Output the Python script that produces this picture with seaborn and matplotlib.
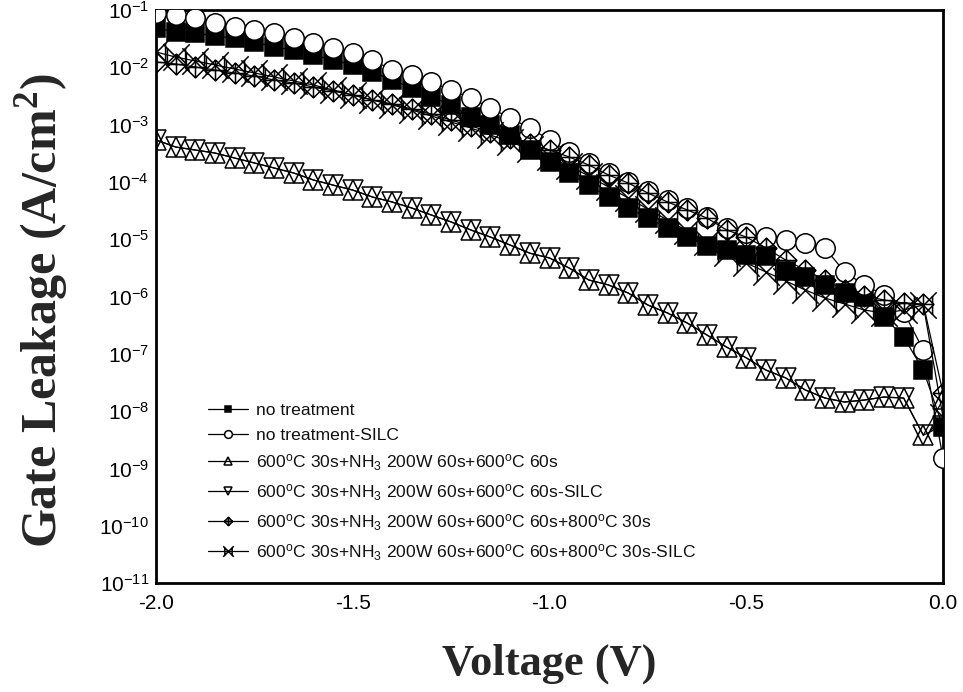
import matplotlib
matplotlib.use("Agg")
import matplotlib.pyplot as plt
from matplotlib.path import Path
from matplotlib.ticker import FixedLocator, LogLocator, NullFormatter, LogFormatterSciNotation
import pandas as pd
import seaborn as sns

# ---------------- data ----------------
voltage = [-2.00, -1.95, -1.90, -1.85, -1.80, -1.75, -1.70, -1.65, -1.60, -1.55,
           -1.50, -1.45, -1.40, -1.35, -1.30, -1.25, -1.20, -1.15, -1.10, -1.05,
           -1.00, -0.95, -0.90, -0.85, -0.80, -0.75, -0.70, -0.65, -0.60, -0.55,
           -0.50, -0.45, -0.40, -0.35, -0.30, -0.25, -0.20, -0.15, -0.10, -0.05,
           0.00]

no_treatment = [4.85e-2, 4.13e-2, 3.97e-2, 3.52e-2, 3.24e-2, 2.76e-2, 2.26e-2, 2.00e-2, 1.64e-2, 1.34e-2,
                1.10e-2, 8.3e-3, 6.0e-3, 4.35e-3, 3.03e-3, 2.20e-3, 1.36e-3, 9.8e-4, 6.6e-4, 3.6e-4,
                2.22e-4, 1.43e-4, 8.8e-5, 5.45e-5, 3.5e-5, 2.34e-5, 1.57e-5, 1.09e-5, 7.6e-6, 6.5e-6,
                5.3e-6, 5.1e-6, 2.8e-6, 2.19e-6, 1.59e-6, 1.15e-6, 9.8e-7, 4.4e-7, 1.96e-7, 5.2e-8,
                5.3e-9]

no_treatment_silc = [8.9e-2, 8.2e-2, 7.2e-2, 5.9e-2, 5.05e-2, 4.48e-2, 3.97e-2, 3.25e-2, 2.65e-2, 2.17e-2,
                     1.78e-2, 1.34e-2, 8.97e-3, 7.34e-3, 5.5e-3, 4.0e-3, 2.91e-3, 1.95e-3, 1.30e-3, 8.7e-4,
                     5.4e-4, 3.33e-4, 2.14e-4, 1.43e-4, 9.95e-5, 6.9e-5, 4.8e-5, 3.5e-5, 2.44e-5, 1.57e-5,
                     1.28e-5, 1.09e-5, 9.7e-6, 8.6e-6, 7.0e-6, 2.68e-6, 1.59e-6, 1.06e-6, 5.4e-7, 1.16e-7,
                     1.52e-9]

nh3_600 = [5.4e-4, 4.06e-4, 3.6e-4, 3.19e-4, 2.61e-4, 2.14e-4, 1.75e-4, 1.43e-4, 1.08e-4, 8.8e-5,
           7.2e-5, 5.45e-5, 4.46e-5, 3.5e-5, 2.64e-5, 2.0e-5, 1.45e-5, 1.09e-5, 7.9e-6, 5.7e-6,
           4.7e-6, 3.14e-6, 1.94e-6, 1.59e-6, 1.15e-6, 7.1e-7, 5.15e-7, 3.45e-7, 2.13e-7, 1.31e-7,
           8.5e-8, 5.2e-8, 3.8e-8, 2.34e-8, 1.69e-8, 1.44e-8, 1.56e-8, 1.76e-8, 1.69e-8, 3.8e-9,
           1.6e-8]

nh3_600_silc = [5.4e-4, 4.06e-4, 3.6e-4, 3.19e-4, 2.61e-4, 2.14e-4, 1.75e-4, 1.43e-4, 1.08e-4, 8.8e-5,
                7.2e-5, 5.45e-5, 4.46e-5, 3.5e-5, 2.64e-5, 2.0e-5, 1.45e-5, 1.09e-5, 7.9e-6, 5.7e-6,
                4.7e-6, 3.14e-6, 1.94e-6, 1.59e-6, 1.15e-6, 7.1e-7, 5.15e-7, 3.45e-7, 2.13e-7, 1.31e-7,
                8.5e-8, 5.2e-8, 3.8e-8, 2.34e-8, 1.69e-8, 1.44e-8, 1.56e-8, 1.76e-8, 1.69e-8, 3.8e-9,
                5.6e-9]

nh3_800 = [1.24e-2, 1.14e-2, 1.01e-2, 8.97e-3, 7.96e-3, 7.05e-3, 6.0e-3, 5.32e-3, 4.53e-3, 3.86e-3,
           3.29e-3, 2.69e-3, 2.29e-3, 1.87e-3, 1.53e-3, 1.20e-3, 9.46e-4, 7.43e-4, 5.84e-4, 4.58e-4,
           3.6e-4, 2.72e-4, 1.97e-4, 1.32e-4, 9.57e-5, 6.4e-5, 4.46e-5, 3.24e-5, 2.34e-5, 1.45e-5,
           1.09e-5, 7.0e-6, 4.34e-6, 2.9e-6, 1.94e-6, 1.30e-6, 1.02e-6, 8.7e-7, 7.7e-7, 7.4e-7,
           2.07e-8]

nh3_800_silc = [1.85e-2, 1.51e-2, 1.29e-2, 1.10e-2, 9.33e-3, 7.96e-3, 6.78e-3, 5.77e-3, 4.91e-3, 4.02e-3,
                3.29e-3, 2.69e-3, 2.2e-3, 1.8e-3, 1.41e-3, 1.11e-3, 8.73e-4, 6.58e-4, 4.96e-4, 3.75e-4,
                2.72e-4, 1.89e-4, 1.27e-4, 8.15e-5, 5.24e-5, 3.36e-5, 2.16e-5, 1.39e-5, 8.93e-6, 5.74e-6,
                3.84e-6, 2.68e-6, 1.87e-6, 1.30e-6, 9.4e-7, 7.4e-7, 5.8e-7, 5.15e-7, 5.8e-7, 7.1e-7,
                7.9e-9]

series_labels = [
    "no treatment",
    "no treatment-SILC",
    r"600$^{\mathrm{o}}$C 30s+NH$_{\mathrm{3}}$ 200W 60s+600$^{\mathrm{o}}$C 60s",
    r"600$^{\mathrm{o}}$C 30s+NH$_{\mathrm{3}}$ 200W 60s+600$^{\mathrm{o}}$C 60s-SILC",
    r"600$^{\mathrm{o}}$C 30s+NH$_{\mathrm{3}}$ 200W 60s+600$^{\mathrm{o}}$C 60s+800$^{\mathrm{o}}$C 30s",
    r"600$^{\mathrm{o}}$C 30s+NH$_{\mathrm{3}}$ 200W 60s+600$^{\mathrm{o}}$C 60s+800$^{\mathrm{o}}$C 30s-SILC",
]
series_values = [no_treatment, no_treatment_silc, nh3_600, nh3_600_silc, nh3_800, nh3_800_silc]

xtick_values = [-2.0, -1.75, -1.5, -1.25, -1.0, -0.75, -0.5, -0.25, 0.0]
xtick_labels = ["-2.0", "", "-1.5", "", "-1.0", "", "-0.5", "", "0.0"]

# ---------------- style ----------------
sns.set_style("white")
plt.rcParams["font.family"] = ["Liberation Sans", "DejaVu Sans"]
plt.rcParams["mathtext.fontset"] = "custom"
plt.rcParams["mathtext.rm"] = "Liberation Sans"
plt.rcParams["mathtext.it"] = "Liberation Sans:italic"
plt.rcParams["mathtext.bf"] = "Liberation Serif:bold"
plt.rcParams["axes.unicode_minus"] = False

# custom markers
diamond_plus = Path(
    [(0, 1), (1, 0), (0, -1), (-1, 0), (0, 1), (-1, 0), (1, 0), (0, -1), (0, 1)],
    [Path.MOVETO, Path.LINETO, Path.LINETO, Path.LINETO, Path.CLOSEPOLY,
     Path.MOVETO, Path.LINETO, Path.MOVETO, Path.LINETO])
bowtie_x = Path(
    [(-1.45, -1.45), (1.45, 1.45), (-1.45, 1.45), (1.45, -1.45),
     (-1, -1), (-1, 1), (1, -1), (1, 1)],
    [Path.MOVETO, Path.LINETO, Path.MOVETO, Path.LINETO,
     Path.MOVETO, Path.LINETO, Path.MOVETO, Path.LINETO])

marker_specs = [
    dict(marker="s", markersize=12.5, markerfacecolor="black"),
    dict(marker="o", markersize=14, markerfacecolor="white"),
    dict(marker="^", markersize=15, markerfacecolor="none"),
    dict(marker="v", markersize=15, markerfacecolor="none"),
    dict(marker=diamond_plus, markersize=15, markerfacecolor="none"),
    dict(marker=bowtie_x, markersize=19, markerfacecolor="none"),
]

fig = plt.figure(figsize=(9.63, 6.92), dpi=100)
ax = fig.add_axes([156 / 963, 1 - 583 / 692, (943 - 156) / 963, (583 - 10) / 692])

for i, (lab, vals, spec) in enumerate(zip(series_labels, series_values, marker_specs)):
    df = pd.DataFrame({"V": voltage, "J": vals})
    sns.lineplot(data=df, x="V", y="J", ax=ax, color="black", linewidth=0.9,
                 markeredgecolor="black", markeredgewidth=1.1, label=lab,
                 zorder=3 + i, errorbar=None, **spec)

ax.set_yscale("log")
ax.set_xlim(-2.0, 0.0)
ax.set_ylim(1e-11, 1e-1)

ax.xaxis.set_major_locator(FixedLocator(xtick_values))
ax.set_xticklabels(xtick_labels)
ax.yaxis.set_major_locator(LogLocator(base=10, numticks=20))
ax.yaxis.set_major_formatter(LogFormatterSciNotation())
ax.yaxis.set_minor_locator(LogLocator(base=10, subs=[2, 3, 4, 5, 6, 7, 8, 9], numticks=20))
ax.yaxis.set_minor_formatter(NullFormatter())

ax.tick_params(axis="both", which="both", direction="in", top=False, right=False, colors="black")
ax.tick_params(axis="x", which="major", length=6, width=1.5, labelsize=15, pad=8)
ax.tick_params(axis="y", which="major", length=7, width=1.5, labelsize=15, pad=5)
ax.tick_params(axis="y", which="minor", length=4, width=1.2)

for sp in ax.spines.values():
    sp.set_linewidth(2.0)
    sp.set_color("black")

ax.set_xlabel("Voltage (V)", fontsize=32, fontweight="bold", family="Liberation Serif")
ax.set_ylabel(r"Gate Leakage (A/cm$^{\mathbf{2}}$)", fontsize=36, fontweight="bold",
              family="Liberation Serif")
ax.xaxis.set_label_coords(0.5, -0.105)
ax.yaxis.set_label_coords(-0.108, 0.475)

leg = ax.legend(loc="upper left", bbox_to_anchor=(208 / 963, 1 - 403 / 692),
                bbox_transform=fig.transFigure, frameon=False, fontsize=12.6,
                markerscale=0.4, handlelength=2.3, handletextpad=0.45,
                labelspacing=0.53, borderpad=0, borderaxespad=0)
for t in leg.get_texts():
    t.set_color("#111111")

fig.savefig("out.png", dpi=100)
